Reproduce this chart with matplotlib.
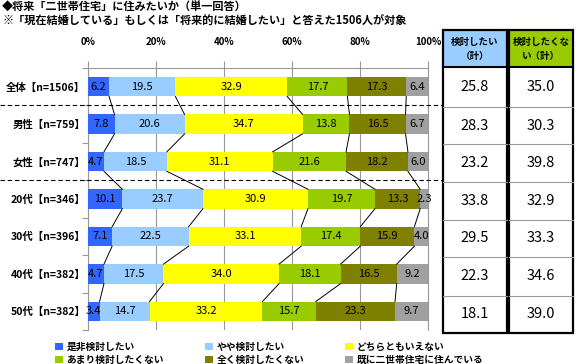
import numpy as np
import matplotlib
matplotlib.use("Agg")
import matplotlib.pyplot as plt
from matplotlib.patches import Patch, Rectangle

plt.rcParams['font.family'] = ['Noto Sans CJK JP', 'DejaVu Sans']

categories = ["全体【n=1506】", "男性【n=759】", "女性【n=747】", "20代【n=346】",
              "30代【n=396】", "40代【n=382】", "50代【n=382】"]
series = ["是非検討したい", "やや検討したい", "どちらともいえない",
          "あまり検討したくない", "全く検討したくない", "既に二世帯住宅に住んでいる"]
s1 = [6.2, 7.8, 4.7, 10.1, 7.1, 4.7, 3.4]
s2 = [19.5, 20.6, 18.5, 23.7, 22.5, 17.5, 14.7]
s3 = [32.9, 34.7, 31.1, 30.9, 33.1, 34.0, 33.2]
s4 = [17.7, 13.8, 21.6, 19.7, 17.4, 18.1, 15.7]
s5 = [17.3, 16.5, 18.2, 13.3, 15.9, 16.5, 23.3]
s6 = [6.4, 6.7, 6.0, 2.3, 4.0, 9.2, 9.7]
want = [25.8, 28.3, 23.2, 33.8, 29.5, 22.3, 18.1]
dont_want = [35.0, 30.3, 39.8, 32.9, 33.3, 34.6, 39.0]
table_head = ["検討したい\n（計）", "検討したくな\nい（計）"]
colors = ["#3366FF", "#99CCFF", "#FFFF00", "#99CC00", "#808000", "#A0A0A0"]
head_colors = ["#99CCFF", "#99CC00"]

W, H = 580, 364
fig = plt.figure(figsize=(W / 100, H / 100), dpi=100)
ax = fig.add_axes([88 / W, 34 / H, 340 / W, 262 / H])

data = np.array([s1, s2, s3, s4, s5, s6])
y = np.arange(len(categories))
h = 0.52
left = np.zeros(len(categories))
for k in range(len(series)):
    ax.barh(y, data[k], left=left, height=h, color=colors[k], zorder=3)
    for i in range(len(categories)):
        ax.text(left[i] + data[k][i] / 2, y[i], f"{data[k][i]:.1f}",
                ha="center", va="center", fontsize=8, zorder=5)
    left = left + data[k]

# series lines between bars
cum = np.cumsum(data, axis=0)
for i in range(len(categories) - 1):
    for k in range(len(series) - 1):
        ax.plot([cum[k][i], cum[k][i + 1]], [y[i] + h / 2, y[i + 1] - h / 2],
                color="black", lw=0.7, zorder=4)

ax.set_xlim(0, 100)
ax.set_ylim(len(categories) - 0.5, -0.5)
ax.xaxis.tick_top()
ax.set_xticks(np.arange(0, 101, 20))
ax.set_xticklabels([f"{v}%" for v in range(0, 101, 20)], fontsize=7, fontweight="bold")
ax.tick_params(axis="x", length=5, color="#999999", pad=10)
ax.set_yticks(np.arange(-0.5, len(categories), 1))
ax.set_yticklabels([])
ax.set_yticks(y, minor=True)
ax.set_yticklabels(categories, minor=True, fontsize=7.5, fontweight="bold")
ax.tick_params(axis="y", which="major", length=4, color="#999999")
ax.tick_params(axis="y", which="minor", length=0, pad=2)
ax.grid(axis="x", color="#999999", lw=0.8, zorder=0)
ax.spines["bottom"].set_visible(False)
for sp in ["top", "left", "right"]:
    ax.spines[sp].set_color("#999999")

# overlay in pixel coords
ov2 = fig.add_axes([0, 0, 1, 1])
ov2.set_xlim(0, W)
ov2.set_ylim(H, 0)
ov2.axis("off")
ov2.patch.set_alpha(0)

fig.canvas.draw()
def ypix(v):
    return H - ax.transData.transform((0, v))[1]

for b in [0.5, 2.5]:
    ov2.plot([0, 443], [ypix(b), ypix(b)], color="black", lw=0.8, ls=(0, (4, 2.5)))

ov2.text(2, 7, "◆将来「二世帯住宅」に住みたいか（単一回答）", fontsize=8, fontweight="bold", va="center")
ov2.text(2, 21, "※「現在結婚している」もしくは「将来的に結婚したい」と答えた1506人が対象",
         fontsize=8, fontweight="bold", va="center")

# table
cols = [(443, 507), (509, 573)]
rows = [67, 107, 144, 182, 220, 257, 296, 333]
for c, (x0, x1) in enumerate(cols):
    ov2.add_patch(Rectangle((x0, 30), x1 - x0, 37, facecolor=head_colors[c], edgecolor="none"))
    ov2.text((x0 + x1) / 2, 48.5, table_head[c], ha="center", va="center",
             fontsize=6.8, fontweight="bold", linespacing=1.5)
    for r in rows[1:-1]:
        ov2.plot([x0, x1], [r, r], color="#999999", lw=0.8)
    ov2.plot([x0, x1], [67, 67], color="black", lw=1.5)
    ov2.add_patch(Rectangle((x0, 30), x1 - x0, 303, facecolor="none", edgecolor="black", lw=1.6))
    vals = want if c == 0 else dont_want
    for i, v in enumerate(vals):
        ov2.text((x0 + x1) / 2, (rows[i] + rows[i + 1]) / 2, f"{v:.1f}",
                 ha="center", va="center", fontsize=10.5)

handles = [Patch(facecolor=colors[k], edgecolor="none", label=series[k]) for k in range(len(series))]
order = [0, 3, 1, 4, 2, 5]
fig.legend([handles[i] for i in order], [series[i] for i in order], ncol=3,
           loc="upper left", bbox_to_anchor=(50 / W, 1 - 337 / H), frameon=False,
           prop={"size": 7, "weight": "bold"}, handlelength=0.8, handleheight=0.8,
           handletextpad=0.4, columnspacing=4.2, labelspacing=0.3, borderpad=0)

fig.savefig("out.png", dpi=100)
